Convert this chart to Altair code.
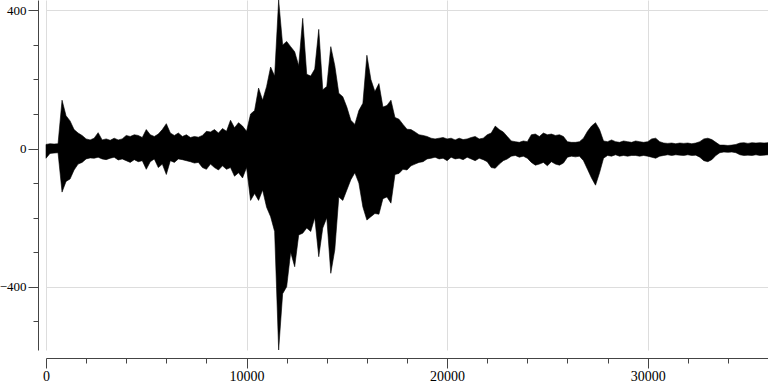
import altair as alt
import pandas as pd

# sample times (every 200 units)
times = list(range(0, 36001, 200))

upper = [12, 14, 13, 14, 140, 95, 80, 55, 45, 38,
         28, 25, 30, 46, 25, 28, 24, 30, 25, 28,
         38, 35, 40, 38, 32, 55, 40, 35, 42, 55,
         72, 45, 38, 45, 35, 40, 32, 35, 33, 38,
         50, 48, 55, 45, 58, 50, 82, 60, 75, 65,
         50, 100, 110, 175, 140, 180, 236, 210, 430, 300,
         310, 295, 280, 240, 377, 215, 210, 230, 345, 170,
         180, 295, 240, 160, 150, 120, 82, 70, 110, 131,
         270, 200, 165, 188, 120, 125, 140, 90, 85, 70,
         56, 55, 48, 40, 38, 35, 30, 28, 30, 32,
         28, 30, 25, 30, 26, 28, 32, 35, 28, 30,
         40, 45, 65, 55, 48, 35, 22, 20, 18, 22,
         20, 40, 42, 35, 45, 40, 42, 38, 40, 35,
         20, 18, 18, 20, 30, 50, 65, 75, 55, 22,
         20, 25, 20, 18, 22, 20, 18, 22, 20, 18,
         20, 28, 30, 20, 16, 15, 16, 14, 16, 15,
         16, 14, 16, 20, 28, 30, 26, 18, 10, 10,
         9, 10, 12, 16, 17, 15, 17, 16, 17, 16,
         17]

lower = [-28, -14, -13, -12, -126, -95, -88, -62, -45, -40,
         -30, -27, -28, -25, -30, -32, -28, -25, -33, -30,
         -35, -40, -32, -38, -35, -60, -38, -30, -55, -45,
         -75, -35, -40, -30, -32, -35, -38, -42, -40, -55,
         -60, -45, -55, -62, -50, -60, -55, -80, -70, -85,
         -55, -150, -130, -150, -120, -170, -197, -240, -583, -420,
         -400, -300, -342, -250, -245, -230, -240, -200, -313, -230,
         -200, -361, -293, -140, -150, -120, -90, -70, -100, -169,
         -207, -197, -188, -190, -145, -140, -158, -75, -72, -60,
         -62, -50, -45, -40, -38, -30, -28, -25, -30, -28,
         -35, -25, -30, -28, -32, -25, -30, -35, -28, -32,
         -38, -55, -57, -45, -35, -30, -22, -20, -25, -22,
         -28, -40, -48, -45, -40, -50, -38, -45, -48, -42,
         -25, -22, -24, -22, -35, -60, -85, -106, -70, -28,
         -20, -22, -18, -22, -20, -22, -20, -20, -22, -20,
         -22, -25, -28, -22, -20, -18, -20, -18, -19, -20,
         -18, -20, -19, -25, -35, -38, -32, -20, -12, -10,
         -11, -10, -12, -18, -20, -19, -20, -18, -20, -19,
         -18]

x_ticks = list(range(0, 36001, 2000))
y_ticks = list(range(-500, 401, 100))

df = pd.DataFrame({"t": times, "hi": upper, "lo": lower})

FONT = "Liberation Serif"

x_axis = alt.Axis(
    values=x_ticks, format="d", title=None, offset=8,
    labelExpr="datum.value % 10000 === 0 ? datum.label : ''",
    tickSize={"condition": {"test": "datum.value % 10000 === 0", "value": 10}, "value": 5},
    gridOpacity={"condition": {"test": "datum.value % 10000 === 0", "value": 1}, "value": 0},
    grid=True, gridColor="#dddddd", gridWidth=1,
    domainColor="#444444", tickColor="#444444", labelColor="#000000",
    labelFont=FONT, labelFontSize=14, labelPadding=1, labelFlush=False,
    labelOverlap=False,
)
y_axis = alt.Axis(
    values=y_ticks, format="d", title=None, offset=8,
    labelExpr="datum.value % 400 === 0 ? datum.label : ''",
    tickSize={"condition": {"test": "datum.value % 400 === 0", "value": 10}, "value": 5},
    gridOpacity={"condition": {"test": "datum.value % 400 === 0", "value": 1}, "value": 0},
    grid=True, gridColor="#dddddd", gridWidth=1,
    domainColor="#444444", tickColor="#444444", labelColor="#000000",
    labelFont=FONT, labelFontSize=13, labelPadding=2, labelFlush=False,
    labelOverlap=False,
)

chart = alt.Chart(df).mark_area(color="black", stroke="black", strokeWidth=0.6).encode(
    x=alt.X("t:Q", axis=x_axis, scale=alt.Scale(domain=[times[0], times[-1]], nice=False, zero=False)),
    y=alt.Y("hi:Q", axis=y_axis, scale=alt.Scale(nice=False, zero=False)),
    y2="lo:Q",
).properties(
    width=722, height=350,
    autosize=alt.AutoSizeParams(type="none"),
    padding={"left": 46, "top": 0, "right": 0, "bottom": 34},
    background="white",
).configure_view(stroke=None)

chart.save("out.html", embed_options={"renderer": "svg", "actions": False})
